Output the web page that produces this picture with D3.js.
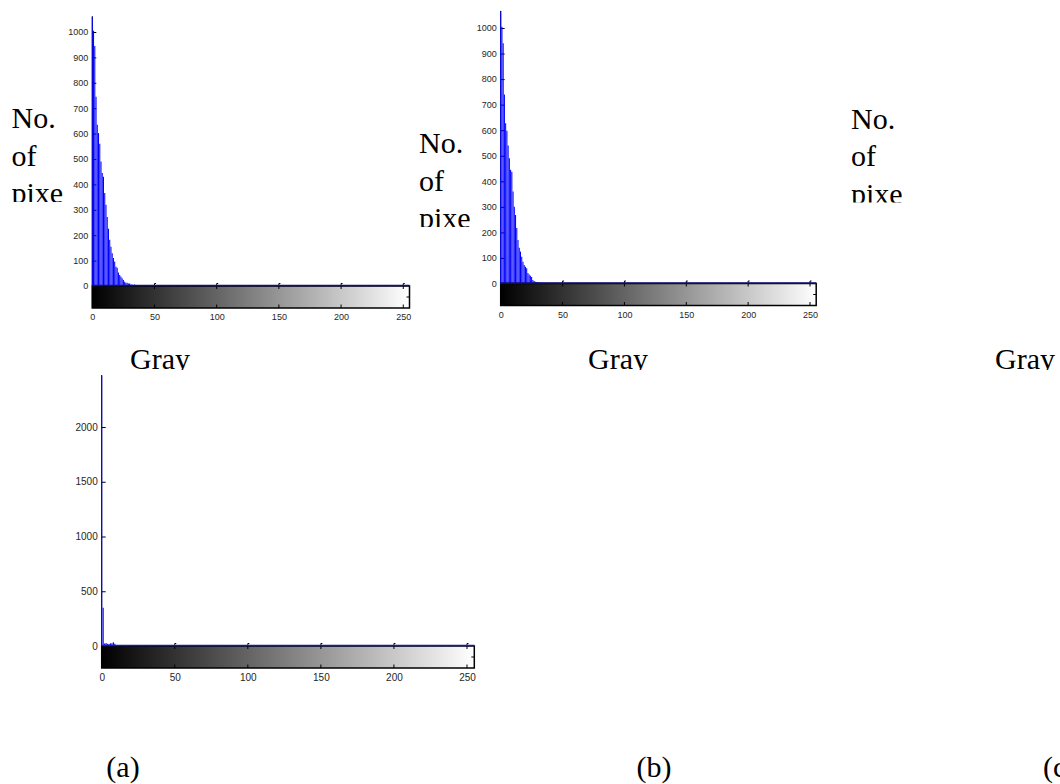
<!DOCTYPE html>
<meta charset="utf-8">
<style>
body { margin: 0; background: #fff; }
.tick text { font: 9px "Liberation Sans", Arial, sans-serif; fill: #262626; }
.lbl { font: 30px "Liberation Serif", "Times New Roman", serif; fill: #000; }
.cap { font: 30px "Liberation Serif", "Times New Roman", serif; fill: #000; }
</style>
<svg width="1060" height="784"></svg>
<script src="https://cdn.jsdelivr.net/npm/d3@7"></script>
<script>

// histogram counts per grey level, starting at level 0 (levels not listed are ~0)
var countsA = [1060, 1005, 945, 745, 635, 602, 560, 490, 445, 430, 366, 320, 272, 225, 182,
               155, 129, 110, 96, 76, 72, 53, 43, 37, 31, 24, 17, 13, 13, 10, 10, 6, 6, 4, 6,
               3, 2, 2, 1, 1, 1];
var countsB = [1067, 1005, 940, 740, 627, 598, 540, 490, 445, 437, 360, 300, 268, 217, 170,
               140, 125, 105, 85, 72, 66, 60, 41, 35, 30, 25, 14, 10, 7, 6, 5, 4, 3, 3, 3, 2, 1];
var countsC = [2470, 350, 22, 28, 20, 18, 24, 26, 34, 20, 8, 6, 5, 5, 4, 4, 3, 3];

var yTicksAB = [0, 100, 200, 300, 400, 500, 600, 700, 800, 900, 1000];
var yTicksC = [0, 500, 1000, 1500, 2000];
var xTicks = [0, 50, 100, 150, 200, 250];
var ylabelLines = ["No.", "of", "pixe"];   // cut short in the figure
var xlabelText = "Gray";
var captions = ["(a)", "(b)", "(c)"];

var svg = d3.select("svg");
svg.append("rect").attr("width", 1060).attr("height", 784).attr("fill", "#fff");

var defs = svg.append("defs");
var grad = defs.append("linearGradient").attr("id", "grey");
grad.append("stop").attr("offset", "0%").attr("stop-color", "#000");
grad.append("stop").attr("offset", "100%").attr("stop-color", "#fff");

// y label in three lines, last line cut at its baseline
function ylabel(id, lx, ly) {
  defs.append("clipPath").attr("id", "clipY" + id)
    .append("rect").attr("width", 1060).attr("height", ly + 2 * 37.5 - 1);
  svg.append("text").attr("class", "lbl")
      .attr("clip-path", "url(#clipY" + id + ")")
    .selectAll("tspan")
    .data(ylabelLines)
    .enter().append("tspan")
      .attr("x", lx)
      .attr("y", function(d, i) { return ly + i * 37.5; })
      .text(function(d) { return d; });
}

// x label, clipped at its baseline
function xlabel(id, lx, ly, anchor) {
  defs.append("clipPath").attr("id", "clipX" + id)
    .append("rect").attr("width", 1060).attr("height", ly + 1);
  svg.append("text").attr("class", "lbl")
      .attr("x", lx).attr("y", ly)
      .attr("text-anchor", anchor)
      .attr("clip-path", "url(#clipX" + id + ")")
      .text(xlabelText);
}

function hist(counts, o) {
  var x = d3.scaleLinear().domain([0, 255]).range([o.left, o.right]);
  var y = d3.scaleLinear().domain([0, o.refVal]).range([o.base, o.refPix]);
  var cbBottom = o.base + 22;
  var g = svg.append("g");

  // colorbar under the axes
  g.append("rect")
      .attr("x", x(0)).attr("y", o.base)
      .attr("width", x(255) - x(0)).attr("height", cbBottom - o.base)
      .attr("fill", "url(#grey)")
      .attr("stroke", "#000").attr("stroke-width", 1.5);
  g.selectAll(".cbtick")
    .data(xTicks.slice(1))
    .enter().append("path")
      .attr("class", "cbtick")
      .attr("d", function(d) {
        return "M" + (x(d) + 1.5) + "," + (o.base - 2.5) + "h-1.5V" + (o.base + 3) +
               "M" + x(d) + "," + cbBottom + "V" + (cbBottom - 3.5);
      })
      .attr("fill", "none")
      .attr("stroke", "#000");
  g.append("path")
      .attr("d", "M" + x(255) + "," + (o.base + 11) + "h-3")
      .attr("stroke", "#000");

  // y axis, ticks pointing inwards
  var ya = g.append("g")
      .attr("transform", "translate(" + x(0) + ",0)")
      .call(d3.axisLeft(y).tickValues(o.yticks).tickSize(-4).tickPadding(4)
            .tickFormat(d3.format("d")));
  ya.select(".domain").remove();
  ya.selectAll("line").attr("stroke", "#000");
  g.append("line")
      .attr("x1", x(0)).attr("x2", x(0))
      .attr("y1", y(o.ymax)).attr("y2", cbBottom)
      .attr("stroke", "#000");

  // stems
  g.selectAll(".stem")
    .data(counts)
    .enter().append("line")
      .attr("class", "stem")
      .attr("x1", function(d, i) { return x(i); })
      .attr("x2", function(d, i) { return x(i); })
      .attr("y1", y(0))
      .attr("y2", function(d) { return y(d); })
      .attr("stroke", "#0000ff")
      .attr("stroke-width", o.sw);

  // stem baseline
  g.append("line")
      .attr("x1", x(0)).attr("x2", x(255))
      .attr("y1", o.base - 0.5).attr("y2", o.base - 0.5)
      .attr("stroke", o.baseColor).attr("stroke-width", 1.4);

  // x tick labels under colorbar
  var xa = g.append("g")
      .attr("transform", "translate(0," + cbBottom + ")")
      .call(d3.axisBottom(x).tickValues(xTicks).tickSize(0).tickPadding(6));
  xa.select(".domain").remove();
  xa.selectAll("text").style("font-size", o.fs + "px");
  ya.selectAll("text").style("font-size", o.fs + "px");
}

hist(countsA, {left: 92.3, right: 409.5, base: 286, refVal: 1000, refPix: 32, ymax: 1062,
               yticks: yTicksAB, sw: 1.05, baseColor: "#10107a", fs: 9});
hist(countsB, {left: 500.7, right: 816.2, base: 283.5, refVal: 1000, refPix: 28, ymax: 1067,
               yticks: yTicksAB, sw: 1.05, baseColor: "#10107a", fs: 9});
hist(countsC, {left: 101.7, right: 474.3, base: 646, refVal: 2000, refPix: 427, ymax: 2475,
               yticks: yTicksC, sw: 1.1, baseColor: "#1a1aa0", fs: 10});

ylabel("a", 11.5, 128);
ylabel("b", 419, 153);
ylabel("c", 851, 128.5);
xlabel("a", 160, 369, "middle");
xlabel("b", 618, 369, "middle");
xlabel("c", 995, 369, "start");

// captions under the figure
var capX = [123, 654, 1043];
svg.selectAll(".cap")
  .data(captions)
  .enter().append("text")
    .attr("class", "cap")
    .attr("x", function(d, i) { return capX[i]; })
    .attr("y", 777)
    .attr("text-anchor", function(d, i) { return i == 2 ? "start" : "middle"; })
    .text(function(d) { return d; });

</script>
